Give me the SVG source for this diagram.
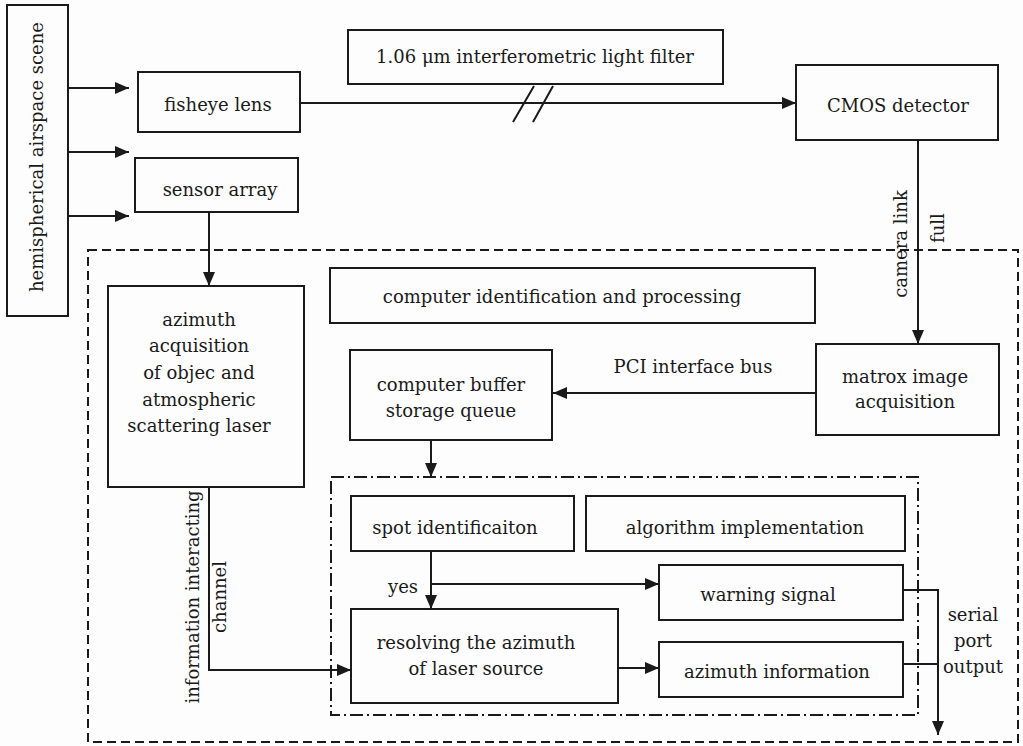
<svg xmlns="http://www.w3.org/2000/svg" width="1023" height="746" viewBox="0 0 1023 746">
<style>
.b{fill:none;stroke:#1a1a1a;stroke-width:2}
.l{fill:none;stroke:#1a1a1a;stroke-width:2}
.a{marker-end:url(#ah)}
text{font-family:"DejaVu Serif","Liberation Serif",serif;font-size:18px;fill:#1a1a1a;text-anchor:middle}
.dash{fill:none;stroke:#1a1a1a;stroke-width:2;stroke-dasharray:9 5}
.dd{fill:none;stroke:#1a1a1a;stroke-width:2;stroke-dasharray:13 4 2 4}
</style>
<defs>
<marker id="ah" markerWidth="14" markerHeight="12" refX="14" refY="6" orient="auto" markerUnits="userSpaceOnUse">
<path d="M0,0 L14,6 L0,12 Z" fill="#1a1a1a"/>
</marker>
</defs>
<rect width="1023" height="746" fill="#fdfdfd"/>
<g id="containers">
<rect class="dash" x="88" y="250" width="930" height="492"/>
<rect class="dd" x="331" y="477" width="587" height="238"/>
</g>
<g id="hemisphere"><rect class="b" x="7" y="5" width="61" height="311"/><text transform="translate(43,157) rotate(-90)">hemispherical airspace scene</text></g>
<g id="fisheye"><rect class="b" x="138" y="72" width="162" height="60"/><text x="218" y="111">fisheye lens</text></g>
<g id="sensor"><rect class="b" x="135" y="158" width="163" height="54"/><text x="220" y="196">sensor array</text></g>
<g id="filter"><rect class="b" x="348" y="30" width="375" height="54"/><text x="535" y="63">1.06 μm interferometric light filter</text></g>
<g id="cmos"><rect class="b" x="796" y="65" width="202" height="75"/><text x="898" y="112">CMOS detector</text></g>
<g id="azacq"><rect class="b" x="108" y="286" width="196" height="201"/>
<text x="199" y="326">azimuth</text><text x="199" y="352">acquisition</text><text x="199" y="379">of objec and</text><text x="199" y="406">atmospheric</text><text x="199" y="432">scattering laser</text></g>
<g id="compid"><rect class="b" x="330" y="268" width="485" height="55"/><text x="562" y="303">computer identification and processing</text></g>
<g id="buffer"><rect class="b" x="350" y="350" width="202" height="90"/><text x="451" y="391">computer buffer</text><text x="451" y="417">storage queue</text></g>
<g id="matrox"><rect class="b" x="816" y="344" width="183" height="91"/><text x="905" y="383">matrox image</text><text x="905" y="408">acquisition</text></g>
<g id="spot"><rect class="b" x="351" y="496" width="223" height="55"/><text x="455" y="534">spot identificaiton</text></g>
<g id="algo"><rect class="b" x="586" y="496" width="319" height="55"/><text x="745" y="534">algorithm implementation</text></g>
<g id="warning"><rect class="b" x="659" y="565" width="244" height="55"/><text x="768" y="601">warning signal</text></g>
<g id="resolve"><rect class="b" x="351" y="609" width="267" height="94"/><text x="476" y="649">resolving the azimuth</text><text x="476" y="675">of laser source</text></g>
<g id="azinfo"><rect class="b" x="659" y="642" width="244" height="55"/><text x="777" y="678">azimuth information</text></g>
<g id="connectors">
<path class="l a" d="M68,88 H129"/>
<path class="l a" d="M68,152 H129"/>
<path class="l a" d="M68,216 H129"/>
<path class="l a" d="M300,103 H796"/>
<path class="l" d="M513,122 L534,86 M533,122 L553,86"/>
<path class="l a" d="M209,212 V286"/>
<path class="l a" d="M918,140 V344"/>
<path class="l a" d="M816,393 H553"/>
<path class="l a" d="M431,440 V477"/>
<path class="l a" d="M431,551 V609"/>
<path class="l a" d="M431,584 H659"/>
<path class="l a" d="M618,668 H659"/>
<path class="l a" d="M209,487 V670 H351"/>
<path class="l a" d="M903,590 H938 V735"/>
<path class="l" d="M903,664 H938"/>
</g>
<g id="labels">
<text transform="translate(907,244) rotate(-90)">camera link</text>
<text transform="translate(944,228) rotate(-90)">full</text>
<text x="693" y="373">PCI interface bus</text>
<text x="403" y="593">yes</text>
<text transform="translate(199,597) rotate(-90)">information interacting</text>
<text transform="translate(226,597) rotate(-90)">channel</text>
<text x="973" y="621">serial</text>
<text x="973" y="647">port</text>
<text x="973" y="673">output</text>
</g>
</svg>
